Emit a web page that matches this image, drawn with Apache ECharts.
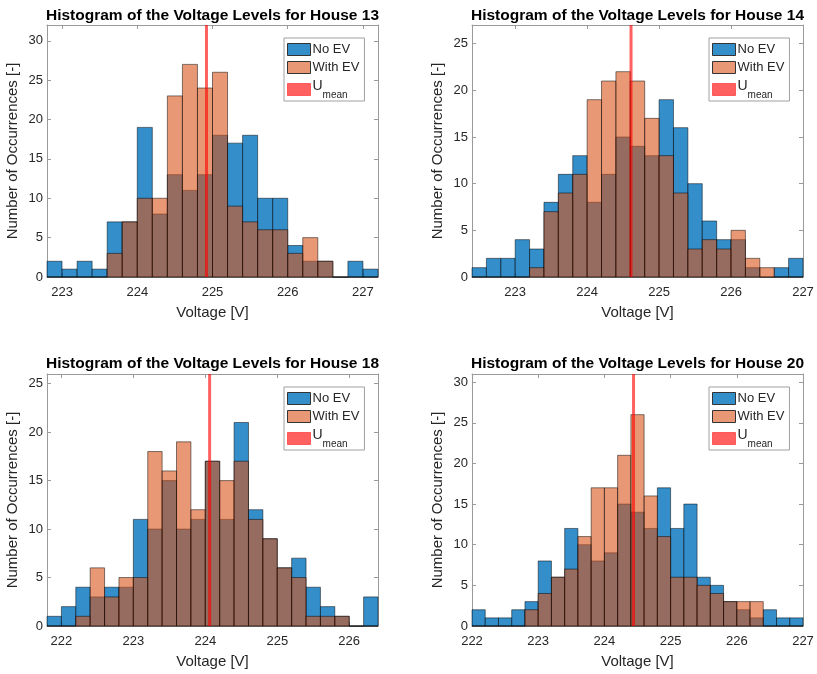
<!DOCTYPE html>
<html><head><meta charset="utf-8">
<script src="https://cdn.jsdelivr.net/npm/echarts@6/dist/echarts.min.js"></script>
<style>html,body{margin:0;padding:0;background:#fff}#c{width:817px;height:674px}</style>
</head><body><div id="c"></div>
<script>
// ---------------- data ----------------
const binWidth = 0.2;
const seriesNames = ['No EV', 'With EV', 'Umean'];

const h13Title = 'Histogram of the Voltage Levels for House 13';
const h13BinStart = 222.8;
const h13NoEV   = [2,1,2,1,7,7,19,8,13,11,13,18,17,18,10,10,4,2,2,0,2,1];
const h13WithEV = [0,0,0,0,3,7,10,10,23,27,24,26,9,7,6,6,3,5,2,0,0,0];
const h13Mean = 224.92;
const h13XRange = [222.8, 227.2];
const h13YMax = 32;
const h13XTicks = [223,224,225,226,227];
const h13YTicks = [0,5,10,15,20,25,30];

const h14Title = 'Histogram of the Voltage Levels for House 14';
const h14BinStart = 222.4;
const h14NoEV   = [1,2,2,4,3,8,11,13,8,11,15,14,13,19,16,10,6,4,4,1,0,1,2];
const h14WithEV = [0,0,0,0,1,7,9,11,19,21,22,21,17,13,9,3,4,3,5,2,1,0,0];
const h14Mean = 224.61;
const h14XRange = [222.4, 227.0];
const h14YMax = 27;
const h14XTicks = [223,224,225,226,227];
const h14YTicks = [0,5,10,15,20,25];

const h18Title = 'Histogram of the Voltage Levels for House 18';
const h18BinStart = 221.8;
const h18NoEV   = [1,2,4,3,4,4,11,10,15,10,11,17,11,21,12,9,6,7,4,2,1,0,3];
const h18WithEV = [0,0,1,6,3,5,5,18,16,19,12,17,15,17,11,9,6,5,1,1,1,0,0];
const h18Mean = 224.06;
const h18XRange = [221.8, 226.4];
const h18YMax = 26;
const h18XTicks = [222,223,224,225,226];
const h18YTicks = [0,5,10,15,20,25];

const h20Title = 'Histogram of the Voltage Levels for House 20';
const h20BinStart = 222.0;
const h20NoEV   = [2,1,1,2,3,8,6,12,10,8,9,15,14,12,17,12,15,6,5,3,2,1,2,1,1];
const h20WithEV = [0,0,0,0,2,4,6,7,11,17,17,21,26,16,11,6,6,5,4,3,3,3,0,0,0];
const h20Mean = 224.44;
const h20XRange = [222.0, 227.0];
const h20YMax = 31;
const h20XTicks = [222,223,224,225,226,227];
const h20YTicks = [0,5,10,15,20,25,30];

const xName = 'Voltage [V]';
const yName = 'Number of Occurrences [-]';

// ---------------- layout & style ----------------
const fontFam = '"Liberation Sans", Arial, Helvetica, sans-serif';
const textCol = '#262626';
const axisCol = '#9a9a9a';
const blueFill = 'rgba(0,114,189,0.8)';
const orangeFill = 'rgba(217,83,25,0.6)';
const meanCol = 'rgba(255,0,0,0.62)';
const edgeCol = 'rgba(0,0,0,0.7)';

const panels = [
  {title:h13Title, start:h13BinStart, noEV:h13NoEV, withEV:h13WithEV, mean:h13Mean, xr:h13XRange, yMax:h13YMax, xt:h13XTicks, yt:h13YTicks},
  {title:h14Title, start:h14BinStart, noEV:h14NoEV, withEV:h14WithEV, mean:h14Mean, xr:h14XRange, yMax:h14YMax, xt:h14XTicks, yt:h14YTicks},
  {title:h18Title, start:h18BinStart, noEV:h18NoEV, withEV:h18WithEV, mean:h18Mean, xr:h18XRange, yMax:h18YMax, xt:h18XTicks, yt:h18YTicks},
  {title:h20Title, start:h20BinStart, noEV:h20NoEV, withEV:h20WithEV, mean:h20Mean, xr:h20XRange, yMax:h20YMax, xt:h20XTicks, yt:h20YTicks}
];
const layout = [
  {left:47, top:25, titleTop:8},
  {left:472, top:25, titleTop:8},
  {left:47, top:374, titleTop:356},
  {left:472, top:374, titleTop:356}
];
const gridW = 331, gridH = 252;

function binData(start, counts){
  return counts.map((c,i)=>[start + i*binWidth, start + (i+1)*binWidth, c]);
}
function barRenderer(fill){
  return function(params, api){
    const a = api.coord([api.value(0), api.value(2)]);
    const b = api.coord([api.value(1), 0]);
    return {type:'rect', shape:{x:a[0], y:a[1], width:b[0]-a[0], height:b[1]-a[1]},
            style:{fill:fill, stroke:edgeCol, lineWidth:0.7}};
  };
}

const option = {
  animation:false,
  backgroundColor:'#fff',
  textStyle:{fontFamily:fontFam, color:textCol},
  title:[], grid:[], xAxis:[], yAxis:[], series:[], legend:[]
};

panels.forEach((p, k)=>{
  const L = layout[k];
  option.title.push({text:p.title, left:L.left + gridW/2, top:L.titleTop, textAlign:'center', padding:0,
    textStyle:{fontFamily:fontFam, fontSize:15.5, fontWeight:'bold', color:'#000'}});
  option.grid.push({left:L.left, top:L.top, width:gridW, height:gridH, containLabel:false});
  const tickStyle = {show:true, inside:true, length:4, lineStyle:{color:axisCol, width:1}};
  option.xAxis.push({gridIndex:k, type:'value', min:p.xr[0], max:p.xr[1], position:'bottom',
    axisLine:{show:true, onZero:false, lineStyle:{color:axisCol, width:1}},
    axisTick:Object.assign({customValues:p.xt}, tickStyle),
    axisLabel:{customValues:p.xt, fontSize:13, color:textCol, margin:9, fontFamily:fontFam},
    splitLine:{show:false},
    name:xName, nameLocation:'middle', nameGap:28,
    nameTextStyle:{fontSize:15, color:textCol, fontFamily:fontFam}});
  option.xAxis.push({gridIndex:k, type:'value', min:p.xr[0], max:p.xr[1], position:'top',
    axisLine:{show:true, onZero:false, lineStyle:{color:axisCol, width:1}},
    axisTick:Object.assign({customValues:p.xt}, tickStyle),
    axisLabel:{show:false}, splitLine:{show:false}});
  option.yAxis.push({gridIndex:k, type:'value', min:0, max:p.yMax, position:'left',
    axisLine:{show:true, onZero:false, lineStyle:{color:axisCol, width:1}},
    axisTick:Object.assign({customValues:p.yt}, tickStyle),
    axisLabel:{customValues:p.yt, fontSize:13, color:textCol, margin:4, fontFamily:fontFam},
    splitLine:{show:false},
    name:yName, nameLocation:'middle', nameGap:27,
    nameTextStyle:{fontSize:15, color:textCol, fontFamily:fontFam}});
  option.yAxis.push({gridIndex:k, type:'value', min:0, max:p.yMax, position:'right',
    axisLine:{show:true, onZero:false, lineStyle:{color:axisCol, width:1}},
    axisTick:Object.assign({customValues:p.yt}, tickStyle),
    axisLabel:{show:false}, splitLine:{show:false}});
  const xi = 2*k, yi = 2*k;
  option.series.push({type:'custom', name:seriesNames[0], xAxisIndex:xi, yAxisIndex:yi,
    renderItem:barRenderer(blueFill), encode:{x:[0,1], y:2}, data:binData(p.start, p.noEV),
    itemStyle:{color:blueFill, borderColor:'#333', borderWidth:1}, z:2});
  option.series.push({type:'custom', name:seriesNames[1], xAxisIndex:xi, yAxisIndex:yi,
    renderItem:barRenderer(orangeFill), encode:{x:[0,1], y:2}, data:binData(p.start, p.withEV),
    itemStyle:{color:orangeFill, borderColor:'#333', borderWidth:1}, z:3});
  option.series.push({type:'line', name:seriesNames[2], xAxisIndex:xi, yAxisIndex:yi,
    data:[[p.mean,0],[p.mean,p.yMax]], showSymbol:false, symbol:'none',
    lineStyle:{color:meanCol, width:3}, itemStyle:{color:meanCol}, z:4});
  option.legend.push({
    orient:'vertical', left:L.left + 237, top:L.top + 13,
    itemWidth:23, itemHeight:12, itemGap:5,
    padding:[5,5,1,3], borderColor:'#a0a0a0', borderWidth:1, backgroundColor:'#fff',
    selectedMode:false,
    textStyle:{fontSize:13, color:textCol, fontFamily:fontFam, padding:[0,0,0,-3],
      rich:{u:{fontSize:14, color:textCol, fontFamily:fontFam, verticalAlign:'top', lineHeight:17},
            s:{fontSize:10, color:textCol, fontFamily:fontFam, verticalAlign:'bottom', lineHeight:21}}},
    formatter:function(name){ return name === 'Umean' ? '{u|U}{s|mean}' : name; },
    data:[
      {name:seriesNames[0], icon:'rect', itemStyle:{color:blueFill, borderColor:'#333', borderWidth:1}},
      {name:seriesNames[1], icon:'rect', itemStyle:{color:orangeFill, borderColor:'#333', borderWidth:1}},
      {name:seriesNames[2], icon:'rect', itemStyle:{color:meanCol, borderColor:'rgba(255,0,0,0.5)', borderWidth:1}}
    ]
  });
});

const chart = echarts.init(document.getElementById('c'), null, {renderer:'canvas'});
chart.setOption(option);
</script>
</body></html>
